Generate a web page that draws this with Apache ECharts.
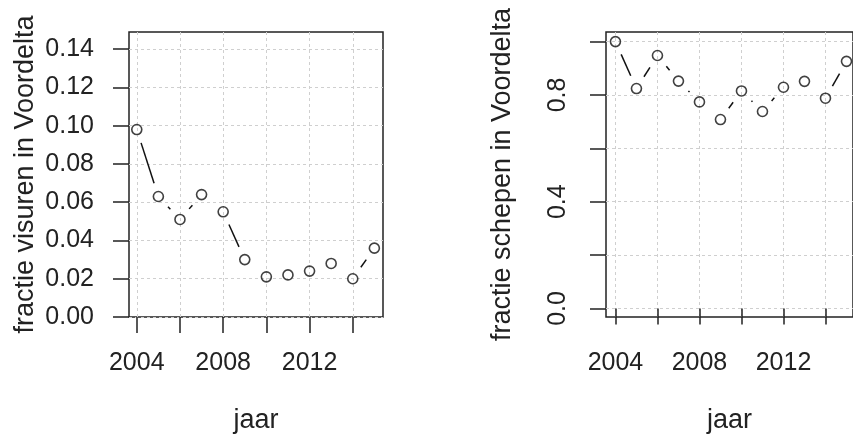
<!DOCTYPE html>
<html>
<head>
<meta charset="utf-8">
<script src="https://cdn.jsdelivr.net/npm/echarts@6/dist/echarts.min.js"></script>
<style>
html,body{margin:0;padding:0;background:#fff;}
#chart{width:853px;height:443px;}
</style>
</head>
<body>
<div id="chart"></div>
<script>
// ---- data ----
const years = [2004, 2005, 2006, 2007, 2008, 2009, 2010, 2011, 2012, 2013, 2014, 2015];
const visuren = [0.098, 0.063, 0.051, 0.064, 0.055, 0.030, 0.021, 0.022, 0.024, 0.028, 0.020, 0.036];
const schepen = [1.00, 0.824, 0.948, 0.852, 0.774, 0.708, 0.815, 0.738, 0.829, 0.851, 0.788, 0.926];
const xTicks = [2004, 2006, 2008, 2010, 2012, 2014];
const xLabels = [2004, 2008, 2012];
const yTicksLeft = [0, 0.02, 0.04, 0.06, 0.08, 0.10, 0.12, 0.14];
const yTicksRight = [0, 0.2, 0.4, 0.6, 0.8, 1.0];
const yLabelsRight = [0, 0.4, 0.8];
const xTitle = 'jaar';
const yTitleLeft = 'fractie visuren in Voordelta';
const yTitleRight = 'fractie schepen in Voordelta';

const FONT = 'Liberation Sans, Arial, sans-serif';
const TXT = '#222';
const GAP = 14;

function segments(xs, ys) {
  const out = [];
  for (let i = 0; i < xs.length - 1; i++) out.push([xs[i], ys[i], xs[i + 1], ys[i + 1]]);
  return out;
}
function renderSeg(params, api) {
  const p0 = api.coord([api.value(0), api.value(1)]);
  const p1 = api.coord([api.value(2), api.value(3)]);
  const dx = p1[0] - p0[0], dy = p1[1] - p0[1];
  const len = Math.sqrt(dx * dx + dy * dy);
  if (len <= 2 * GAP) return null;
  const ux = dx / len, uy = dy / len;
  return {
    type: 'line',
    shape: { x1: p0[0] + ux * GAP, y1: p0[1] + uy * GAP, x2: p1[0] - ux * GAP, y2: p1[1] - uy * GAP },
    style: { stroke: '#111', lineWidth: 1.5 }
  };
}
function xAxisCfg(idx, min, max) {
  return {
    gridIndex: idx, type: 'value', min: min, max: max,
    axisLine: { show: false },
    axisTick: { show: true, length: 16, customValues: xTicks, lineStyle: { color: '#222', width: 1.5 } },
    axisLabel: { customValues: xLabels, fontSize: 25, fontFamily: FONT, color: TXT, margin: 34, formatter: v => String(v) },
    splitLine: { show: true, lineStyle: { color: '#cfcfcf', width: 1, type: [3, 3] } },
    name: xTitle, nameLocation: 'middle', nameGap: 90,
    nameTextStyle: { fontSize: 27, fontFamily: FONT, color: TXT }
  };
}
const gridLine = { show: true, lineStyle: { color: '#cfcfcf', width: 1, type: [3, 3] } };

const option = {
  backgroundColor: '#fff',
  animation: false,
  grid: [
    { left: 129, top: 32, width: 254, height: 285, show: true, borderColor: '#222', borderWidth: 1.5, backgroundColor: 'transparent' },
    { left: 606, top: 32, width: 254, height: 285, show: true, borderColor: '#222', borderWidth: 1.5, backgroundColor: 'transparent' }
  ],
  xAxis: [
    xAxisCfg(0, 2003.64, 2015.4),
    xAxisCfg(1, 2003.55, 2015.31)
  ],
  yAxis: [
    {
      gridIndex: 0, type: 'value', min: 0, max: 0.149,
      axisLine: { show: false },
      axisTick: { show: true, length: 16, customValues: yTicksLeft, lineStyle: { color: '#222', width: 1.5 } },
      axisLabel: { customValues: yTicksLeft, fontSize: 25, fontFamily: FONT, color: TXT, margin: 35, formatter: v => v.toFixed(2) },
      splitLine: gridLine,
      name: yTitleLeft, nameLocation: 'middle', nameGap: 90, nameRotate: 90,
      nameTextStyle: { fontSize: 27, fontFamily: FONT, color: TXT }
    },
    {
      gridIndex: 1, type: 'value', min: -0.032, max: 1.036,
      axisLine: { show: false },
      axisTick: { show: true, length: 16, customValues: yTicksRight, lineStyle: { color: '#222', width: 1.5 } },
      axisLabel: { customValues: yLabelsRight, rotate: 90, fontSize: 25, fontFamily: FONT, color: TXT, margin: 35, formatter: v => v.toFixed(1) },
      splitLine: gridLine,
      name: yTitleRight, nameLocation: 'middle', nameGap: 90, nameRotate: 90,
      nameTextStyle: { fontSize: 27, fontFamily: FONT, color: TXT }
    }
  ],
  series: [
    { type: 'custom', xAxisIndex: 0, yAxisIndex: 0, renderItem: renderSeg, data: segments(years, visuren), dimensions: ['x0','y0','x1','y1'], encode: { x: [0, 2], y: [1, 3] }, silent: true },
    { type: 'scatter', xAxisIndex: 0, yAxisIndex: 0, data: years.map((y, i) => [y, visuren[i]]), symbol: 'circle', symbolSize: 10, itemStyle: { color: 'transparent', borderColor: '#111', borderWidth: 1.6 } },
    { type: 'custom', xAxisIndex: 1, yAxisIndex: 1, renderItem: renderSeg, data: segments(years, schepen), dimensions: ['x0','y0','x1','y1'], encode: { x: [0, 2], y: [1, 3] }, silent: true },
    { type: 'scatter', xAxisIndex: 1, yAxisIndex: 1, data: years.map((y, i) => [y, schepen[i]]), symbol: 'circle', symbolSize: 10, itemStyle: { color: 'transparent', borderColor: '#111', borderWidth: 1.6 } }
  ]
};
const chart = echarts.init(document.getElementById('chart'), null, { renderer: 'canvas' });
chart.setOption(option);
</script>
</body>
</html>
